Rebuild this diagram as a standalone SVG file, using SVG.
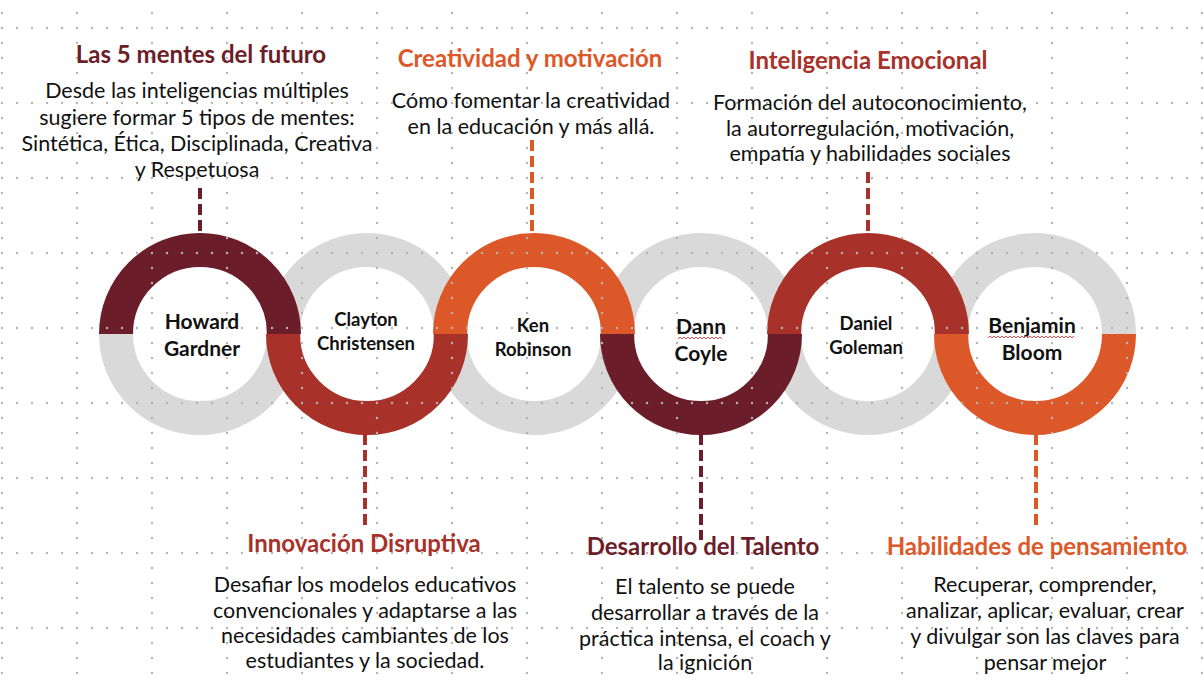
<svg xmlns="http://www.w3.org/2000/svg" width="1204" height="683" viewBox="0 0 1204 683">
<defs>
<pattern id="dots" x="-5" y="21" width="75" height="75" patternUnits="userSpaceOnUse">
<g fill="#b3b3b3">
<circle cx="7" cy="7" r="1.2"/><circle cx="22" cy="7" r="1.2"/><circle cx="37" cy="7" r="1.2"/><circle cx="52" cy="7" r="1.2"/><circle cx="67" cy="7" r="1.2"/>
<circle cx="7" cy="22" r="1.2"/><circle cx="7" cy="37" r="1.2"/><circle cx="7" cy="52" r="1.2"/><circle cx="7" cy="67" r="1.2"/>
</g>
</pattern>
<style>
.arc{fill:none;stroke-width:34}
.gray{stroke:#d9d9d9}
.maroon{stroke:#6b1e29}
.red{stroke:#a8312a}
.orange{stroke:#dd5829}
.conn{fill:none;stroke-width:4;stroke-dasharray:11 5}
.title{font-family:Lato,"Liberation Sans",sans-serif;font-weight:700;font-size:24px;text-anchor:middle}
.body{font-family:Lato,"Liberation Sans",sans-serif;font-size:21.5px;fill:#111;text-anchor:middle}
.name{font-family:Lato,"Liberation Sans",sans-serif;font-weight:700;font-size:21px;fill:#111;text-anchor:middle}
.sname{font-family:Lato,"Liberation Sans",sans-serif;font-weight:700;font-size:18.5px;fill:#111;text-anchor:middle}
.squig{fill:none;stroke:#e05050;stroke-width:1}
</style>
</defs>
<rect width="1204" height="683" fill="#ffffff"/>

<g id="rings-gray">
<path class="arc gray" d="M116,334 A84,84 0 0 0 284,334"/>
<path class="arc gray" d="M283,334 A84,84 0 0 1 451,334"/>
<path class="arc gray" d="M450,334 A84,84 0 0 0 618,334"/>
<path class="arc gray" d="M617,334 A84,84 0 0 1 785,334"/>
<path class="arc gray" d="M784,334 A84,84 0 0 0 952,334"/>
<path class="arc gray" d="M951,334 A84,84 0 0 1 1119,334"/>
</g>
<g id="rings-color">
<path class="arc maroon" d="M116,334 A84,84 0 0 1 284,334"/>
<path class="arc red" d="M283,334 A84,84 0 0 0 451,334"/>
<path class="arc orange" d="M450,334 A84,84 0 0 1 618,334"/>
<path class="arc maroon" d="M617,334 A84,84 0 0 0 785,334"/>
<path class="arc red" d="M784,334 A84,84 0 0 1 952,334"/>
<path class="arc orange" d="M951,334 A84,84 0 0 0 1119,334"/>
</g>

<rect width="1204" height="683" fill="url(#dots)"/>

<g id="connectors">
<line class="conn" x1="200" y1="188" x2="200" y2="234" stroke="#6b1e29"/>
<line class="conn" x1="532" y1="140" x2="532" y2="234" stroke="#dd5829"/>
<line class="conn" x1="868" y1="172" x2="868" y2="234" stroke="#a8312a"/>
<line class="conn" x1="365" y1="434" x2="365" y2="528" stroke="#a8312a"/>
<line class="conn" x1="701" y1="434" x2="701" y2="540" stroke="#6b1e29"/>
<line class="conn" x1="1036" y1="434" x2="1036" y2="528" stroke="#dd5829"/>
</g>

<g id="node-gardner">
<text class="name" x="202" y="329">Howard</text>
<text class="name" x="202" y="356">Gardner</text>
<text class="title" x="201" y="63" fill="#6b1e29">Las 5 mentes del futuro</text>
<text class="body" x="197" y="98">Desde las inteligencias múltiples</text>
<text class="body" x="197" y="124.5">sugiere formar 5 tipos de mentes:</text>
<text class="body" x="197" y="151">Sintética, Ética, Disciplinada, Creativa</text>
<text class="body" x="197" y="177">y Respetuosa</text>
</g>

<g id="node-christensen">
<text class="sname" x="366" y="326">Clayton</text>
<text class="sname" x="366" y="350">Christensen</text>
<text class="title" x="364" y="552" fill="#a8312a">Innovación Disruptiva</text>
<text class="body" x="365" y="592">Desafiar los modelos educativos</text>
<text class="body" x="365" y="617.5">convencionales y adaptarse a las</text>
<text class="body" x="365" y="643">necesidades cambiantes de los</text>
<text class="body" x="365" y="668">estudiantes y la sociedad.</text>
</g>

<g id="node-robinson">
<text class="sname" x="533" y="332">Ken</text>
<text class="sname" x="533" y="356">Robinson</text>
<text class="title" x="530" y="67" fill="#dd5829">Creatividad y motivación</text>
<text class="body" x="531" y="107.5">Cómo fomentar la creatividad</text>
<text class="body" x="531" y="133.5">en la educación y más allá.</text>
</g>

<g id="node-coyle">
<text class="name" x="701" y="334">Dann</text>
<text class="name" x="701" y="361">Coyle</text>
<path class="squig" d="M678,339 l2,-2 l2,2 l2,-2 l2,2 l2,-2 l2,2 l2,-2 l2,2 l2,-2 l2,2 l2,-2 l2,2 l2,-2 l2,2 l2,-2 l2,2 l2,-2 l2,2 l2,-2 l2,2 l2,-2 l2,2"/>
<text class="title" x="703" y="555" fill="#6b1e29">Desarrollo del Talento</text>
<text class="body" x="705" y="594">El talento se puede</text>
<text class="body" x="705" y="620">desarrollar a través de la</text>
<text class="body" x="705" y="646">práctica intensa, el coach y</text>
<text class="body" x="705" y="670">la ignición</text>
</g>

<g id="node-goleman">
<text class="sname" x="866" y="330">Daniel</text>
<text class="sname" x="866" y="354">Goleman</text>
<text class="title" x="868" y="69" fill="#a8312a">Inteligencia Emocional</text>
<text class="body" x="870" y="110">Formación del autoconocimiento,</text>
<text class="body" x="870" y="135.5">la autorregulación, motivación,</text>
<text class="body" x="870" y="160.5">empatía y habilidades sociales</text>
</g>

<g id="node-bloom">
<text class="name" x="1032" y="333">Benjamin</text>
<text class="name" x="1032" y="360">Bloom</text>
<path class="squig" d="M988,338 l2,-2 l2,2 l2,-2 l2,2 l2,-2 l2,2 l2,-2 l2,2 l2,-2 l2,2 l2,-2 l2,2 l2,-2 l2,2 l2,-2 l2,2 l2,-2 l2,2 l2,-2 l2,2 l2,-2 l2,2 l2,-2 l2,2 l2,-2 l2,2 l2,-2 l2,2 l2,-2 l2,2 l2,-2 l2,2 l2,-2 l2,2 l2,-2 l2,2 l2,-2 l2,2 l2,-2 l2,2 l2,-2 l2,2 l2,-2"/>
<text class="title" x="1037" y="555" fill="#dd5829">Habilidades de pensamiento</text>
<text class="body" x="1045" y="592">Recuperar, comprender,</text>
<text class="body" x="1045" y="618">analizar, aplicar, evaluar, crear</text>
<text class="body" x="1045" y="644">y divulgar son las claves para</text>
<text class="body" x="1045" y="670">pensar mejor</text>
</g>
</svg>
